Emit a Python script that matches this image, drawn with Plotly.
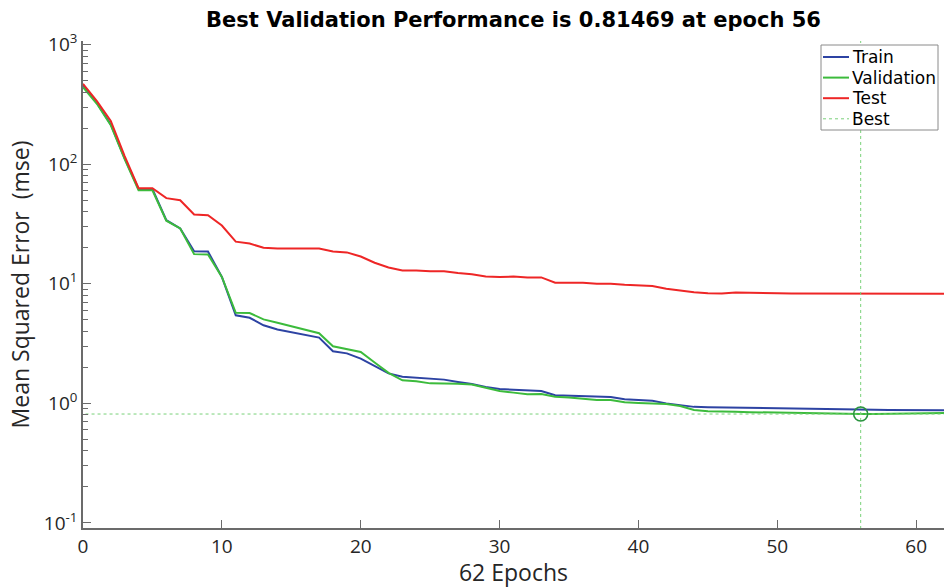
import plotly.graph_objects as go

# Training record: mean squared error per epoch for each data split
epochs = list(range(63))

train_mse = [
    460, 325, 215, 112, 62, 62, 34, 29, 18.7, 18.6,
    11.4, 5.45, 5.2, 4.5, 4.15, 3.93, 3.72, 3.55, 2.73, 2.62,
    2.37, 2.06, 1.78, 1.67, 1.64, 1.60, 1.58, 1.51, 1.45, 1.37,
    1.32, 1.30, 1.28, 1.27, 1.17, 1.16, 1.135, 1.13, 1.13, 1.085,
    1.065, 1.05, 1.0, 0.97, 0.935, 0.93, 0.925, 0.92, 0.915, 0.91,
    0.905, 0.90, 0.897, 0.894, 0.891, 0.888, 0.885, 0.883, 0.881, 0.88,
    0.879, 0.878, 0.877,
]

val_mse = [
    440, 320, 212, 110, 60.5, 60.5, 33.7, 29, 17.7, 17.6,
    11.4, 5.72, 5.7, 5.04, 4.73, 4.41, 4.1, 3.86, 3.0, 2.84,
    2.69, 2.2, 1.80, 1.56, 1.53, 1.47, 1.47, 1.46, 1.44, 1.36,
    1.27, 1.23, 1.195, 1.20, 1.135, 1.12, 1.09, 1.065, 1.065, 1.02,
    1.006, 1.0, 0.99, 0.95, 0.88, 0.86, 0.85, 0.85, 0.845, 0.84,
    0.835, 0.83, 0.826, 0.822, 0.819, 0.817, 0.81469, 0.815, 0.817, 0.82,
    0.823, 0.826, 0.83,
]

test_mse = [
    470, 337, 230, 117, 63, 63, 52, 50, 38, 37.5,
    30.7, 22.5, 21.7, 20.0, 19.7, 19.6, 19.7, 19.7, 18.6, 18.3,
    16.9, 15.0, 13.7, 12.9, 12.9, 12.7, 12.7, 12.3, 12.0, 11.5,
    11.4, 11.5, 11.3, 11.3, 10.2, 10.2, 10.2, 10.0, 10.0, 9.8,
    9.65, 9.6, 9.1, 8.8, 8.5, 8.35, 8.3, 8.45, 8.45, 8.4,
    8.35, 8.3, 8.3, 8.25, 8.25, 8.25, 8.25, 8.25, 8.25, 8.25,
    8.25, 8.25, 8.25,
]

series_names = ["Train", "Validation", "Test", "Best"]

y_tick_vals = [0.1, 1, 10, 100, 1000]
y_tick_text = ["10<sup>-1</sup>", "10<sup>0</sup>", "10<sup>1</sup>",
               "10<sup>2</sup>", "10<sup>3</sup>"]
x_tick_vals = [0, 10, 20, 30, 40, 50, 60]

best_perf = min(val_mse)
best_epoch = epochs[val_mse.index(best_perf)]
n_epochs = epochs[-1]

BLUE = "#2d43a3"
GREEN = "#3cbb3c"
RED = "#ee2626"
BEST_LINE = "#79d179"
BEST_MARK = "#2b9440"
AXIS = "#6b6b6b"
TEXT = "#262626"

W, H = 944, 588
ML, MR, MT, MB = 83, 0, 41, 60
PW, PH = W - ML - MR, H - MT - MB

fig = go.Figure()

fig.add_trace(go.Scatter(x=epochs, y=train_mse, mode="lines", name=series_names[0],
                         line=dict(color=BLUE, width=2)))
fig.add_trace(go.Scatter(x=epochs, y=val_mse, mode="lines", name=series_names[1],
                         line=dict(color=GREEN, width=2)))
fig.add_trace(go.Scatter(x=epochs, y=test_mse, mode="lines", name=series_names[2],
                         line=dict(color=RED, width=2)))

# Dotted guides through the best validation point
fig.add_trace(go.Scatter(x=[best_epoch, best_epoch], y=[0.05, 2000], mode="lines",
                         name=series_names[3], line=dict(color=BEST_LINE, width=1, dash="dot")))
fig.add_trace(go.Scatter(x=[-5, 70], y=[best_perf, best_perf], mode="lines",
                         line=dict(color=BEST_LINE, width=1, dash="dot")))
fig.add_trace(go.Scatter(x=[best_epoch], y=[best_perf], mode="markers",
                         marker=dict(symbol="circle-open", size=14,
                                     line=dict(color=BEST_MARK, width=1.6), color=BEST_MARK)))


# Compact boxed legend in the upper-right corner (pixel layout -> paper coords)
def px(xp):
    return (xp - ML) / PW


def py(yp):
    return 1 - (yp - MT) / PH


legend_styles = [
    dict(color=BLUE, width=2),
    dict(color=GREEN, width=2),
    dict(color=RED, width=2),
    dict(color=BEST_LINE, width=1, dash="dot"),
]
shapes = [dict(type="rect", xref="paper", yref="paper",
               x0=px(821), x1=px(938), y0=py(130), y1=py(45),
               line=dict(color="#8a8a8a", width=1), fillcolor="white", layer="above")]
annotations = []
for i, (name, style) in enumerate(zip(series_names, legend_styles)):
    yc = 57 + 20.6 * i
    shapes.append(dict(type="line", xref="paper", yref="paper",
                       x0=px(823), x1=px(849), y0=py(yc), y1=py(yc),
                       line=style, layer="above"))
    annotations.append(dict(text=name, xref="paper", yref="paper",
                            x=px(850), y=py(yc), xanchor="left", yanchor="middle",
                            showarrow=False,
                            font=dict(family="DejaVu Sans", size=17, color="black")))

fig.update_layout(
    width=W, height=H,
    margin=dict(l=ML, r=MR, t=MT, b=MB),
    paper_bgcolor="white", plot_bgcolor="white",
    font=dict(family="Open Sans", color=TEXT, size=19),
    title=dict(text=f"<b>Best Validation Performance is {best_perf:.5f} at epoch {best_epoch}</b>",
               x=0.5, xref="paper", xanchor="center",
               y=1 - 20 / H, yref="container", yanchor="middle",
               font=dict(family="DejaVu Sans", size=21, color="black")),
    showlegend=False,
    shapes=shapes,
    annotations=annotations,
)

fig.update_xaxes(
    range=[0, 62], tickvals=x_tick_vals, ticks="inside", ticklen=8, tickwidth=1,
    tickcolor=AXIS, showline=True, linecolor=AXIS, linewidth=1.5, showgrid=False,
    zeroline=False, title=dict(text=f"{n_epochs} Epochs", standoff=4),
    tickfont=dict(size=19, color=TEXT),
)
fig.update_yaxes(
    type="log", range=[-1.042, 3.03], tickvals=y_tick_vals, ticktext=y_tick_text,
    ticks="inside", ticklen=8, tickwidth=1, tickcolor=AXIS,
    minor=dict(tickvals=[k * 10 ** e for e in range(-1, 3) for k in range(2, 10)],
               ticks="inside", ticklen=5, tickcolor=AXIS, showgrid=False),
    showline=True, linecolor=AXIS, linewidth=1.5, showgrid=False, zeroline=False,
    title=dict(text="Mean Squared Error  (mse)", standoff=8),
    tickfont=dict(size=19, color=TEXT),
)

fig.write_html("out.html")
